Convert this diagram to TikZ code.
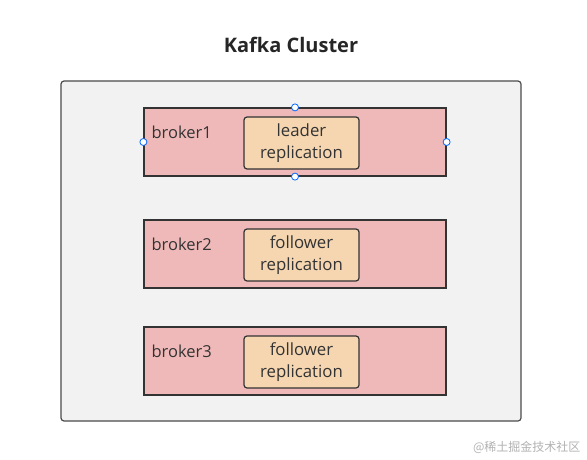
\documentclass[tikz,border=0pt]{standalone}
\usepackage{fontspec}
\setmainfont{Open Sans}
\newfontfamily\cjk{Noto Sans CJK SC}
\begin{document}
\begin{tikzpicture}[x=1pt,y=-1pt,
  cluster/.style={draw=black!70,fill=black!5,line width=1.2pt,rounded corners=3pt},
  broker/.style={draw=black!80,fill=red!50!pink!55,line width=1.2pt,minimum width=302pt,minimum height=68pt,inner sep=0pt},
  repl/.style={draw=black!80,fill=orange!50!brown!20!yellow!30,line width=1.2pt,rounded corners=3pt,minimum width=115pt,minimum height=52pt,inner sep=0pt,align=center,font=\fontsize{16.8}{21.5}\selectfont,text=black!80},
  blabel/.style={anchor=west,font=\fontsize{16.5}{20}\selectfont,text=black!80},
  handle/.style={circle,draw=blue!60!cyan,fill=white,line width=0.8pt,minimum size=7pt,inner sep=0pt}]
\useasboundingbox[fill=white] (0,0) rectangle (587,460);
\definecolor{bk}{HTML}{F0B9B9}
\definecolor{rp}{HTML}{F5D6B0}
\node[font=\bfseries\fontsize{20}{24}\selectfont,text=black!85] (title) at (291,45) {Kafka Cluster};
\node[cluster,minimum width=460pt,minimum height=340pt,inner sep=0pt] (cl) at (291,251) {};
\node[broker,fill=bk] (b1) at (295,142) {};
\node[broker,fill=bk] (b2) at (295,254) {};
\node[broker,fill=bk] (b3) at (295,361) {};
\node[repl,fill=rp] (r1) at (301.5,143) {leader\\replication};
\node[repl,fill=rp] (r2) at (301.5,255) {follower\\replication};
\node[repl,fill=rp] (r3) at (301.5,362) {follower\\replication};
\node[blabel] (l1) at (148,132) {broker1};
\node[blabel] (l2) at (148,244) {broker2};
\node[blabel] (l3) at (148,351) {broker3};
\node[handle] (h1) at (b1.north) {};
\node[handle] (h2) at (b1.south) {};
\node[handle] (h3) at (b1.west) {};
\node[handle] (h4) at (b1.east) {};
\node[font=\cjk\fontsize{12}{14}\selectfont,text=black!30,anchor=east] (wm) at (584,447) {@稀土掘金技术社区};
\end{tikzpicture}
\end{document}
